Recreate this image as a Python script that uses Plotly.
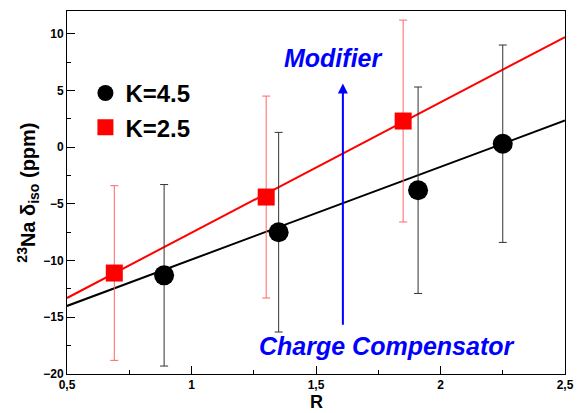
import plotly.graph_objects as go

# Black series: K = 4.5
r_k45 = [0.89, 1.35, 1.91, 2.25]
d_k45 = [-11.3, -7.5, -3.8, 0.3]
e_k45 = [8.0, 8.8, 9.1, 8.7]

# Red series: K = 2.5
r_k25 = [0.69, 1.30, 1.85]
d_k25 = [-11.1, -4.4, 2.3]
e_k25 = [7.7, 8.9, 8.9]

# Linear trend lines (end points over the R range)
fit_r = [0.5, 2.5]
fit_k45 = [-14.0, 2.35]
fit_k25 = [-13.3, 9.7]

x_ticks = [0.5, 1.0, 1.5, 2.0, 2.5]
x_tick_text = ["0,5", "1", "1,5", "2", "2,5"]
y_ticks = [-20, -15, -10, -5, 0, 5, 10]

# Arrow between the two annotations
arrow_r = 1.608
arrow_from = -15.8
arrow_to = 5.6

FONT = "Liberation Sans, Arial, sans-serif"

fig = go.Figure()

fig.add_trace(go.Scatter(x=fit_r, y=fit_k25, mode="lines",
                         line=dict(color="#ff0000", width=2), showlegend=False, hoverinfo="skip"))
fig.add_trace(go.Scatter(x=fit_r, y=fit_k45, mode="lines",
                         line=dict(color="#000000", width=2), showlegend=False, hoverinfo="skip"))

fig.add_trace(go.Scatter(
    x=r_k45, y=d_k45, mode="markers", name="K=4.5",
    marker=dict(symbol="circle", size=20, color="#000000"),
    error_y=dict(type="data", array=e_k45, visible=True, color="#333333", thickness=1, width=4),
))
fig.add_trace(go.Scatter(
    x=r_k25, y=d_k25, mode="markers", name="K=2.5",
    marker=dict(symbol="square", size=17, color="#ff0000"),
    error_y=dict(type="data", array=e_k25, visible=True, color="#ff6666", thickness=1, width=4),
))

fig.add_annotation(x=arrow_r, y=arrow_to, ax=arrow_r, ay=arrow_from,
                   xref="x", yref="y", axref="x", ayref="y",
                   showarrow=True, arrowhead=2, arrowsize=1, arrowwidth=2,
                   arrowcolor="#0000ff", text="")
fig.add_annotation(x=1.57, y=7.9, xref="x", yref="y", showarrow=False,
                   text="<b><i>Modifier</i></b>",
                   font=dict(family=FONT, size=25, color="#0000ff"))
fig.add_annotation(x=1.785, y=-17.5, xref="x", yref="y", showarrow=False,
                   text="<b><i>Charge Compensator</i></b>",
                   font=dict(family=FONT, size=25, color="#0000ff"))

# Axis titles placed as annotations for exact positioning
fig.add_annotation(x=0.5, y=-0.076, xref="paper", yref="paper", showarrow=False,
                   xanchor="center", yanchor="middle", borderpad=0, text="<b>R</b>",
                   font=dict(family=FONT, size=18, color="#000000"))
fig.add_annotation(x=-0.078, y=0.5, xref="paper", yref="paper", showarrow=False,
                   xanchor="center", yanchor="middle", textangle=-90,
                   text="<b><sup>23</sup>Na δ<sub>iso</sub> (ppm)</b>",
                   font=dict(family=FONT, size=20, color="#000000"))

axis_common = dict(showline=True, linecolor="#000000", linewidth=1, mirror=True,
                   ticks="inside", ticklen=8, tickcolor="#000000",
                   showgrid=False, zeroline=False, automargin=False,
                   minor=dict(ticks="inside", ticklen=4, tickcolor="#000000"),
                   tickfont=dict(family=FONT, size=12, color="#000000", weight="bold"))

fig.update_xaxes(range=[0.5, 2.5], tickvals=x_ticks, ticktext=x_tick_text,
                 minor_dtick=0.25, **axis_common)
fig.update_yaxes(range=[-20, 12], tickvals=y_ticks, minor_dtick=2.5, **axis_common)

fig.update_layout(
    width=577, height=413,
    margin=dict(l=67, r=12, t=11, b=39),
    paper_bgcolor="#ffffff", plot_bgcolor="#ffffff",
    legend=dict(x=0.037, y=0.835, xanchor="left", yanchor="top",
                bgcolor="rgba(0,0,0,0)", itemsizing="trace", tracegroupgap=0,
                font=dict(family=FONT, size=24, color="#000000", weight="bold")),
)

fig.write_html("out.html")
